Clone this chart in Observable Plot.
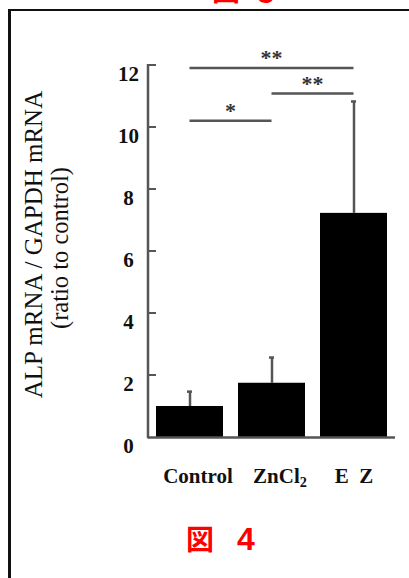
<!DOCTYPE html>
<html><head><meta charset="utf-8">
<script src="https://cdn.jsdelivr.net/npm/d3@7"></script>
<script src="https://cdn.jsdelivr.net/npm/@observablehq/plot@0.6"></script>
<style>
html,body{margin:0;padding:0;background:#fff;width:409px;height:578px;overflow:hidden;position:relative;}
#chart{position:absolute;left:0;top:0;}
#frame{position:absolute;left:8px;top:9px;width:430px;height:620px;border-top:2px solid #111;border-left:3px solid #111;pointer-events:none;z-index:2;}
.cap{position:absolute;color:#f00;white-space:pre;line-height:1;margin:0;}
.kanji{font-family:"Noto Sans CJK JP",sans-serif;font-weight:bold;font-size:28px;}
.num{font-family:"Liberation Sans",Arial,sans-serif;font-weight:bold;font-size:32px;}
</style></head><body>
<div id="chart"></div>
<div id="frame"></div>
<span class="cap kanji" style="left:212px;top:-25px;">図</span>
<span class="cap num" style="left:257px;top:-24px;">5</span>
<span class="cap kanji" style="left:186px;top:524px;">図</span>
<span class="cap num" style="left:237px;top:523px;">4</span>
<script>
// ---- data ----
const groups = ["Control", "ZnCl2", "EZ"];
const groupLabels = ["Control", "ZnCl2", "E  Z"];
const means = [1.0, 1.75, 7.23];
const upperValues = [1.48, 2.58, 10.84];
const yTicks = [0, 2, 4, 6, 8, 10, 12];
const bracketFrom = ["Control", "ZnCl2", "Control"];
const bracketTo = ["EZ", "EZ", "ZnCl2"];
const bracketY = [11.9, 11.08, 10.2];
const bracketLabels = ["**", "**", "*"];
const yTitle1 = "ALP mRNA / GAPDH mRNA";
const yTitle2 = "(ratio to control)";

const data = groups.map((g, i) => ({group: g, mean: means[i], upper: upperValues[i]}));
const brackets = bracketFrom.map((f, i) => ({from: f, to: bracketTo[i], y: bracketY[i], label: bracketLabels[i]}));

const serif = '"Liberation Serif","Times New Roman",Times,serif';
const grey = "#555";

function annotations(index, scales, values, dims) {
  const {x, y} = scales;
  const bw = typeof x.bandwidth === "function" ? x.bandwidth() : (+x.bandwidth || 0);
  const cx = c => x(c) + bw / 2;
  const left = dims.marginLeft;
  const g = d3.create("svg:g");
  g.append("line")
    .attr("x1", left).attr("x2", left)
    .attr("y1", y(0) + 1.2).attr("y2", y(d3.max(yTicks)) - 1)
    .attr("stroke", grey).attr("stroke-width", 2.5);
  for (const t of yTicks) {
    if (t === 0) continue;
    g.append("line")
      .attr("x1", left).attr("x2", left + 8)
      .attr("y1", y(t)).attr("y2", y(t))
      .attr("stroke", grey).attr("stroke-width", 2);
  }
  for (const b of brackets) {
    const x1 = cx(b.from), x2 = cx(b.to), yy = y(b.y);
    g.append("line")
      .attr("x1", x1).attr("x2", x2).attr("y1", yy).attr("y2", yy)
      .attr("stroke", grey).attr("stroke-width", 2.5);
    g.append("text")
      .attr("x", (x1 + x2) / 2).attr("y", yy - 3)
      .attr("text-anchor", "middle")
      .attr("font-family", serif).attr("font-weight", "bold").attr("font-size", 22)
      .attr("fill", "#333")
      .text(b.label);
  }
  return g.node();
}

const plot = Plot.plot({
  width: 409,
  height: 500,
  marginLeft: 148,
  marginRight: 14,
  marginTop: 65,
  marginBottom: 63,
  style: {background: "transparent", fontFamily: serif, color: "#111", overflow: "visible"},
  x: {type: "band", domain: groups, paddingInner: 0.18, paddingOuter: 0.09, axis: null},
  y: {domain: [0, 12], axis: null},
  marks: [
    Plot.ruleX(data, {x: "group", y1: "mean", y2: "upper", stroke: grey, strokeWidth: 2.5}),
    Plot.tickY(data, {x: "group", y: "upper", stroke: grey, strokeWidth: 2.5, insetLeft: 31, insetRight: 31}),
    Plot.barY(data, {x: "group", y: "mean", fill: "#000"}),
    Plot.ruleY([0], {stroke: grey, strokeWidth: 2.5}),
    annotations,
    Plot.text(yTicks, {y: d => d, text: d => String(d), frameAnchor: "left", textAnchor: "middle",
      lineAnchor: "bottom", dx: -20, dy: 15, fontSize: 21, fontWeight: "bold", fill: "#111"}),
    Plot.text(groups, {filter: (d, i) => i < 2, x: d => d, text: d => groupLabels[groups.indexOf(d)],
      frameAnchor: "bottom", textAnchor: "middle", lineAnchor: "bottom", dx: 8, dy: 45, fontSize: 21, fontWeight: "bold", fill: "#111"}),
    Plot.text(groups, {filter: (d, i) => i === 2, x: d => d, text: d => groupLabels[groups.indexOf(d)],
      frameAnchor: "bottom", textAnchor: "middle", lineAnchor: "bottom", dx: 0, dy: 45, fontSize: 21, fontWeight: "bold", fill: "#111"}),
    Plot.text([yTitle1], {frameAnchor: "left", textAnchor: "middle", rotate: -90, lineAnchor: "middle", dx: -114.5, dy: -7,
      fontSize: 25, fill: "#111"}),
    Plot.text([yTitle2], {frameAnchor: "left", textAnchor: "middle", rotate: -90, lineAnchor: "middle", dx: -88, dy: -3.5,
      fontSize: 24.5, fill: "#111"})
  ]
});

// subscript for ZnCl2
plot.querySelectorAll("text").forEach(t => {
  if (t.textContent === "ZnCl2" && t.children.length === 0) {
    t.textContent = "ZnCl";
    const s = document.createElementNS("http://www.w3.org/2000/svg", "tspan");
    s.setAttribute("font-size", "0.68em");
    s.setAttribute("dy", "0.32em");
    s.textContent = "2";
    t.appendChild(s);
  }
});

document.getElementById("chart").appendChild(plot);
</script>
</body></html>
